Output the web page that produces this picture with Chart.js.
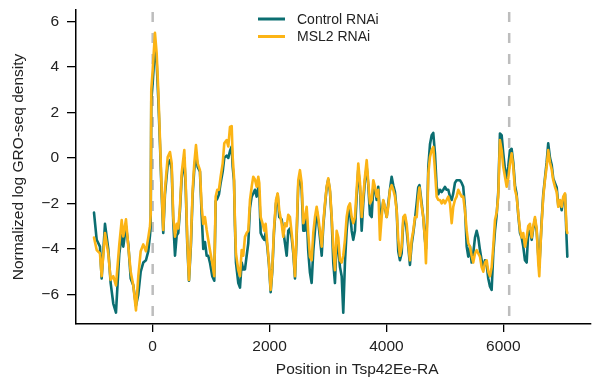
<!DOCTYPE html>
<html>
<head>
<meta charset="utf-8">
<script src="https://cdn.jsdelivr.net/npm/chart.js@4.4.1/dist/chart.umd.min.js"></script>
<style>
  html, body { margin: 0; padding: 0; background: #fff; }
  #wrap { width: 594px; height: 387px; }
</style>
</head>
<body>
<div id="wrap"><canvas id="groChart" width="594" height="387"></canvas></div>
<script>
// position along Tsp42Ee-RA (bp)
const positions = [
  -1004, -958, -902, -873, -816, -760, -719, -674, -628, -571,
  -530, -503, -457, -417, -376, -332, -286, -246, -205, -161,
  -115, -75, -46, -34, -24, 0, 39, 68, 96, 125,
  154, 181, 210, 257, 296, 325, 352, 382, 411, 438,
  467, 496, 541, 565, 592, 621, 655, 684, 712, 741,
  770, 809, 838, 866, 895, 924, 951, 980, 1020, 1054,
  1078, 1105, 1134, 1163, 1198, 1225, 1266, 1294, 1323, 1352,
  1369, 1391, 1408, 1425, 1465, 1494, 1523, 1550, 1579, 1608,
  1636, 1665, 1694, 1721, 1750, 1779, 1807, 1824, 1848, 1882,
  1909, 1933, 1961, 1990, 2019, 2046, 2075, 2110, 2139, 2166,
  2207, 2235, 2264, 2293, 2320, 2349, 2378, 2406, 2435, 2464,
  2491, 2520, 2549, 2577, 2606, 2635, 2662, 2691, 2720, 2748,
  2777, 2806, 2833, 2862, 2892, 2919, 2948, 2977, 3004, 3034,
  3063, 3090, 3119, 3148, 3176, 3205, 3234, 3261, 3290, 3319,
  3347, 3376, 3405, 3432, 3461, 3490, 3518, 3547, 3576, 3603,
  3632, 3662, 3689, 3718, 3747, 3775, 3804, 3833, 3860, 3889,
  3918, 3946, 3975, 4004, 4031, 4060, 4089, 4117, 4146, 4175,
  4202, 4231, 4260, 4288, 4317, 4346, 4373, 4402, 4431, 4459,
  4488, 4517, 4544, 4565, 4603, 4630, 4659, 4676, 4698, 4716,
  4745, 4774, 4801, 4830, 4859, 4887, 4916, 4945, 4972, 5001,
  5030, 5058, 5087, 5116, 5143, 5172, 5201, 5229, 5258, 5287,
  5314, 5343, 5373, 5400, 5429, 5458, 5485, 5515, 5544, 5571,
  5600, 5629, 5657, 5686, 5715, 5742, 5771, 5800, 5828, 5857,
  5886, 5913, 5942, 5971, 5999, 6028, 6057, 6084, 6113, 6142,
  6170, 6199, 6228, 6255, 6285, 6314, 6341, 6370, 6399, 6426,
  6456, 6485, 6512, 6541, 6570, 6598, 6615, 6638, 6655, 6683,
  6712, 6741, 6768, 6798, 6827, 6854, 6883, 6913, 6940, 6969,
  6998, 7025, 7055, 7083, 7095
];

const controlRNAi = [
  -2.4, -3.6, -3.9, -5.3, -2.9, -4.0, -5.5, -6.4, -6.8, -4.2,
  -3.4, -3.9, -3.0, -3.8, -5.3, -5.6, -6.5, -6.0, -5.0, -4.6,
  -4.5, -4.1, -3.4, -3.0, 2.5, 3.3, 4.9, 4.2, 2.6, 0.6,
  -1.6, -3.3, -1.6, -0.3, -0.1, -0.5, -2.8, -4.3, -3.4, -3.3,
  -2.3, -0.9, 0.0, -1.3, -3.8, -5.4, -3.8, -1.6, -0.5, 0.2,
  -0.4, -0.6, -2.5, -4.0, -3.7, -4.3, -4.3, -4.6, -5.2, -5.4,
  -1.9, -1.8, -1.6, -1.1, -0.6, 0.0, 0.1, 0.0, 0.3, 0.5,
  -0.4, -1.0, -3.0, -4.6, -5.5, -5.7, -4.6, -4.9, -4.9, -4.3,
  -3.75, -2.2, -1.7, -1.56, -1.4, -1.7, -1.3, -1.5, -3.3, -3.5,
  -3.6, -3.3, -3.9, -4.7, -5.9, -5.0, -3.3, -2.0, -1.6, -2.6,
  -2.7, -3.2, -3.75, -4.3, -3.2, -3.1, -3.5, -4.2, -5.3, -3.4,
  -1.2, -0.9, -1.4, -3.2, -3.2, -2.5, -4.1, -5.04, -5.5, -4.1,
  -3.2, -2.3, -2.8, -3.5, -4.3, -3.0, -2.1, -1.3, -0.95, -1.5,
  -2.7, -4.6, -5.5, -3.6, -4.0, -4.8, -5.2, -6.8, -4.6, -3.2,
  -2.4, -2.3, -3.2, -3.6, -3.2, -1.7, -0.5, -1.3, -3.2, -2.0,
  -1.0, -0.4, -1.2, -2.5, -2.6, -1.3, -1.4, -1.85, -1.27, -2.5,
  -2.4, -1.9, -2.2, -2.6, -2.0, -1.4, -0.83, -1.2, -1.5, -2.3,
  -4.1, -4.5, -4.2, -2.8, -2.6, -3.2, -3.9, -4.7, -3.8, -3.3,
  -2.7, -2.0, -1.3, -1.2, -2.0, -2.6, -3.6, -4.0, -2.5, -0.4,
  0.6, 1.0, 1.1, 0.2, -1.27, -1.6, -1.4, -1.5, -1.4, -1.27,
  -1.4, -1.4, -1.7, -1.85, -1.56, -1.1, -0.98, -0.98, -0.98, -1.1,
  -1.27, -2.15, -3.9, -4.34, -3.9, -4.6, -4.2, -3.5, -3.2, -3.5,
  -4.05, -4.5, -4.9, -4.5, -4.7, -5.3, -5.65, -5.8, -4.2, -3.2,
  -2.5, -1.5, 1.07, 1.0, 0.2, -0.5, -0.9, -0.4, 0.34, 0.4,
  -0.2, -1.2, -1.6, -2.5, -3.3, -3.5, -3.9, -4.5, -4.6, -3.3,
  -3.2, -3.6, -3.1, -2.7, -3.2, -4.3, -4.8, -3.7, -2.8, -1.6,
  -0.9, -0.2, 0.64, 0.0, -0.3, -0.9, -1.1, -1.3, -2.1, -1.9,
  -2.3, -1.8, -1.6, -3.6, -4.34
];

const msl2RNAi = [
  -3.5, -4.05, -4.2, -5.2, -3.3, -4.2, -5.36, -5.2, -5.6, -3.8,
  -2.73, -3.45, -2.7, -3.9, -5.0, -5.6, -6.7, -5.2, -4.1, -3.8,
  -4.1, -3.5, -3.0, -2.5, 3.0, 3.85, 5.5, 4.6, 2.97, 0.78,
  -1.4, -3.17, -1.4, 0.04, 0.26, -0.23, -2.6, -3.46, -2.9, -3.1,
  -2.15, -0.67, 0.34, -1.1, -3.6, -5.36, -3.6, -1.4, -0.24, 0.56,
  -0.24, -0.54, -2.15, -2.9, -2.6, -3.17, -3.6, -4.05, -4.63, -5.2,
  -1.7, -1.4, -1.4, -0.83, -0.24, 0.64, 0.78, 0.5, 1.36, 1.4,
  0.04, -0.83, -2.87, -4.2, -4.93, -5.2, -4.05, -4.3, -3.47, -3.3,
  -3.2, -1.85, -1.27, -0.83, -0.95, -1.27, -0.83, -1.1, -2.6, -2.9,
  -3.2, -2.9, -3.75, -4.63, -5.8, -4.9, -3.17, -1.85, -1.56, -2.3,
  -2.9, -3.47, -2.87, -3.0, -2.5, -2.6, -3.3, -4.05, -5.2, -3.2,
  -0.98, -0.54, -1.1, -2.87, -2.6, -2.15, -3.3, -4.34, -4.5, -3.3,
  -2.6, -2.15, -2.6, -3.2, -3.9, -2.87, -2.0, -1.27, -0.9, -1.4,
  -2.6, -3.9, -4.93, -3.2, -3.5, -4.5, -4.6, -4.3, -3.6, -2.6,
  -2.15, -2.0, -2.6, -2.87, -2.6, -1.4, -0.25, -1.1, -2.6, -1.7,
  -0.83, -0.1, -1.1, -2.0, -1.85, -0.98, -1.27, -1.7, -1.4, -3.6,
  -2.6, -1.85, -2.15, -2.6, -2.15, -1.4, -1.2, -1.4, -1.7, -2.3,
  -3.6, -4.3, -3.9, -2.6, -2.5, -2.9, -3.75, -4.5, -3.6, -3.2,
  -2.6, -2.6, -1.7, -1.3, -2.15, -2.6, -3.6, -4.63, -2.9, -0.69,
  0.04, 0.34, 0.48, -0.54, -1.7, -1.85, -1.85, -2.0, -1.85, -2.0,
  -1.85, -1.7, -2.0, -2.87, -2.15, -1.85, -1.7, -1.4, -1.56, -1.7,
  -1.7, -2.3, -3.2, -3.75, -3.9, -4.3, -4.6, -4.2, -4.05, -4.2,
  -4.34, -4.8, -5.0, -4.6, -4.5, -5.0, -5.2, -4.8, -3.9, -2.73,
  -2.4, -1.7, 0.78, 0.34, -0.39, -0.83, -1.27, -0.9, -0.25, 0.2,
  -0.39, -1.4, -1.7, -2.43, -3.17, -3.5, -3.3, -3.9, -3.5, -3.0,
  -2.9, -3.5, -3.0, -2.6, -3.1, -4.63, -5.2, -3.75, -2.9, -1.7,
  -0.98, -0.39, 0.34, -0.2, -0.5, -0.98, -1.27, -1.5, -2.15, -1.85,
  -2.15, -1.7, -1.56, -3.17, -3.3
];

const xTicks = [0, 2000, 4000, 6000];
const yTicks = [-6, -4, -2, 0, 2, 4, 6];
const markers = [0, 6100]; // dashed guides (TSS, TES)
const seriesNames = ["Control RNAi", "MSL2 RNAi"];
const seriesColors = ["#0b6e71", "#fcb415"];
const xTitle = "Position in Tsp42Ee-RA";
const yTitle = "Normalized log GRO-seq density";

const FONT = "'Liberation Sans', Arial, Helvetica, sans-serif";
const TEXT = "#222";

const toPoints = (vals) => positions.map((p, i) => ({ x: p, y: vals[i] }));

// grey dashed guides behind the traces
const markerLines = {
  id: "markerLines",
  beforeDatasetsDraw(chart) {
    const { ctx, chartArea, scales } = chart;
    ctx.save();
    ctx.strokeStyle = "#bdbdbd";
    ctx.lineWidth = 2.5;
    ctx.setLineDash([10, 11]);
    markers.forEach((m) => {
      const x = scales.x.getPixelForValue(m);
      ctx.beginPath();
      ctx.moveTo(x, chartArea.top + 2);
      ctx.lineTo(x, chartArea.bottom);
      ctx.stroke();
    });
    ctx.restore();
  },
};

// line-sample legend + x title
const extras = {
  id: "extras",
  afterDraw(chart) {
    const { ctx, scales } = chart;
    ctx.save();
    ctx.font = `14px ${FONT}`;
    ctx.textBaseline = "middle";
    ctx.textAlign = "left";
    seriesNames.forEach((name, i) => {
      const y = 19 + i * 17.5;
      ctx.strokeStyle = seriesColors[i];
      ctx.lineWidth = 3;
      ctx.beginPath();
      ctx.moveTo(258, y);
      ctx.lineTo(285, y);
      ctx.stroke();
      ctx.fillStyle = TEXT;
      ctx.fillText(name, 297, y + 1);
    });

    ctx.font = `15.5px ${FONT}`;
    ctx.textAlign = "center";
    ctx.fillText(xTitle, scales.x.getPixelForValue(3500), 370);
    ctx.restore();
  },
};

new Chart(document.getElementById("groChart"), {
  type: "line",
  data: {
    datasets: [
      {
        label: seriesNames[0],
        data: toPoints(controlRNAi),
        borderColor: seriesColors[0],
        order: 1,
      },
      {
        label: seriesNames[1],
        data: toPoints(msl2RNAi),
        borderColor: seriesColors[1],
        order: 0,
      },
    ],
  },
  options: {
    responsive: false,
    animation: false,
    devicePixelRatio: 1,
    layout: { padding: { top: 10, right: 3, left: 0, bottom: 0 } },
    elements: {
      point: { radius: 0 },
      line: { borderWidth: 2.6, tension: 0, fill: false, borderJoinStyle: "round", borderCapStyle: "round" },
    },
    plugins: {
      legend: { display: false },
      tooltip: { enabled: false },
    },
    scales: {
      x: {
        type: "linear",
        min: -1312,
        max: 7500,
        afterBuildTicks: (s) => { s.ticks = xTicks.map((v) => ({ value: v })); },
        afterFit: (s) => {
          s.height = 63;
          s.paddingLeft = 0;
          s.paddingRight = 0;
        },
        ticks: {
          color: TEXT,
          font: { family: FONT, size: 15.5 },
          padding: 5,
          maxRotation: 0,
          callback: (v) => String(v),
        },
        grid: { drawOnChartArea: false, drawTicks: true, tickLength: 8, color: "#000", lineWidth: 1.3 },
        border: { color: "#000", width: 1.5 },
      },
      y: {
        min: -7.3,
        max: 6.5,
        afterBuildTicks: (s) => { s.ticks = yTicks.map((v) => ({ value: v })); },
        afterFit: (s) => {
          s.width = 76;
          s.paddingTop = 0;
          s.paddingBottom = 0;
        },
        ticks: {
          color: TEXT,
          font: { family: FONT, size: 15.5 },
          padding: 8,
          callback: (v) => String(v).replace("-", "\u2212"),
        },
        grid: { drawOnChartArea: false, drawTicks: true, tickLength: 9, color: "#000", lineWidth: 1.3 },
        border: { color: "#000", width: 1.5 },
        title: {
          display: true,
          text: yTitle,
          color: TEXT,
          font: { family: FONT, size: 15.5 },
          padding: { top: 9, bottom: 0 },
        },
      },
    },
  },
  plugins: [markerLines, extras],
});
</script>
</body>
</html>
